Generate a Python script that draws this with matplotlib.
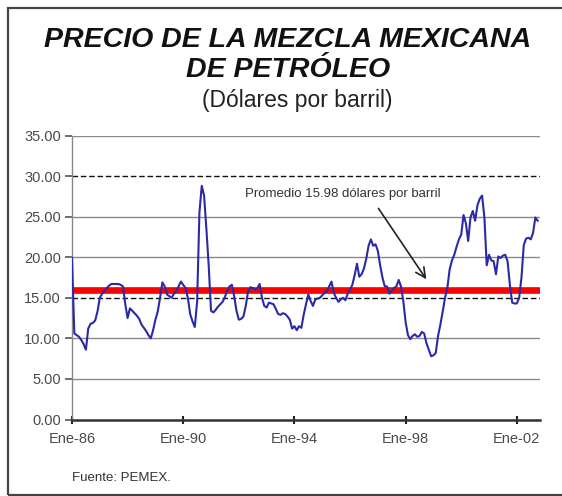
import numpy as np
import matplotlib
matplotlib.use("Agg")
import matplotlib.pyplot as plt
from matplotlib.patches import Rectangle

# Monthly price, Jan-1986 .. Oct-2002 (USD per barrel)
p1986 = [19.9, 10.6, 10.4, 10.2, 9.8, 9.3, 8.6, 11.2, 11.8, 11.9, 12.2, 13.3]
p1987 = [15.0, 15.5, 15.9, 16.2, 16.5, 16.7, 16.7, 16.7, 16.7, 16.6, 16.4, 14.2]
p1988 = [12.5, 13.7, 13.4, 13.1, 12.8, 12.4, 11.7, 11.3, 10.9, 10.4, 10.0, 11.0]
p1989 = [12.3, 13.3, 15.0, 16.9, 16.4, 15.4, 15.2, 15.0, 15.5, 15.8, 16.4, 17.0]
p1990 = [16.6, 16.2, 15.0, 13.0, 12.1, 11.4, 14.5, 25.5, 28.8, 27.6, 23.5, 19.0]
p1991 = [13.4, 13.2, 13.5, 13.9, 14.2, 14.5, 15.1, 15.9, 16.4, 16.6, 15.2, 13.4]
p1992 = [12.3, 12.4, 12.7, 14.0, 15.8, 16.3, 16.2, 16.0, 16.2, 16.7, 15.0, 14.0]
p1993 = [13.8, 14.4, 14.3, 14.2, 13.6, 13.0, 12.9, 13.1, 13.0, 12.7, 12.3, 11.2]
p1994 = [11.5, 11.0, 11.5, 11.3, 12.9, 14.2, 15.4, 14.6, 14.0, 14.8, 14.9, 15.0]
p1995 = [15.3, 15.6, 15.8, 16.4, 17.0, 15.6, 15.0, 14.5, 14.8, 15.0, 14.7, 15.5]
p1996 = [16.0, 16.6, 17.8, 19.2, 17.6, 17.9, 18.6, 19.8, 21.4, 22.2, 21.4, 21.6]
p1997 = [20.8, 19.0, 17.5, 16.4, 16.4, 15.5, 15.8, 16.2, 16.4, 17.2, 16.4, 14.6]
p1998 = [12.0, 10.4, 9.9, 10.3, 10.5, 10.2, 10.3, 10.8, 10.6, 9.4, 8.6, 7.8]
p1999 = [7.9, 8.2, 10.3, 11.7, 13.3, 15.0, 16.2, 18.5, 19.6, 20.3, 21.3, 22.2]
p2000 = [22.8, 25.2, 24.2, 22.0, 24.9, 25.7, 24.5, 26.4, 27.2, 27.6, 24.9, 19.0]
p2001 = [20.3, 19.6, 19.5, 17.9, 20.1, 19.9, 20.2, 20.3, 19.5, 16.6, 14.4, 14.3]
p2002 = [14.3, 15.0, 17.5, 21.5, 22.3, 22.4, 22.2, 23.0, 24.9, 24.5]

precio = (p1986 + p1987 + p1988 + p1989 + p1990 + p1991 + p1992 + p1993 +
          p1994 + p1995 + p1996 + p1997 + p1998 + p1999 + p2000 + p2001 + p2002)
promedio = 15.98

xtick_labels = ["Ene-86", "Ene-90", "Ene-94", "Ene-98", "Ene-02"]
xtick_months = [0, 48, 96, 144, 192]
ytick_values = [0, 5, 10, 15, 20, 25, 30, 35]

W, H = 562, 496
fig = plt.figure(figsize=(W / 100, H / 100), dpi=100)
fig.patch.set_facecolor("white")
FONT = "Liberation Sans"

# outer frame
fig.patches.append(Rectangle((8 / W, 1 - 495 / H), 1.2, (495 - 8) / H,
                             transform=fig.transFigure, fill=False,
                             edgecolor="#444444", lw=1.6))

ax = fig.add_axes([72 / W, 1 - 419.5 / H, (540 - 72) / W, (419.5 - 135.5) / H])
x = np.arange(len(precio))

ax.set_xlim(0, 202)
ax.set_ylim(0, 35)
ax.set_yticks(ytick_values)
ax.set_yticklabels([f"{v:.2f}" for v in ytick_values], fontsize=10.5,
                   family=FONT, color="#4a4a4a")
ax.set_xticks(xtick_months)
ax.set_xticklabels(xtick_labels, fontsize=10.5, family=FONT, color="#4a4a4a")

ax.grid(axis="y", color="#8a8a8a", lw=1.0)
for tv, gl in zip(ytick_values, ax.yaxis.get_gridlines()):
    if tv in (15, 30):
        gl.set_color("#111111")
        gl.set_linestyle((0, (4, 2)))
        gl.set_linewidth(1.0)
ax.set_axisbelow(True)

for s in ("top", "right"):
    ax.spines[s].set_visible(False)
ax.spines["left"].set_color("#888888")
ax.spines["left"].set_linewidth(1.0)
ax.spines["bottom"].set_color("#333333")
ax.spines["bottom"].set_linewidth(1.8)
ax.tick_params(axis="y", direction="out", length=5, width=1.2,
               color="#555555", pad=3)
ax.tick_params(axis="x", direction="inout", length=6, width=1.5,
               color="#222222", pad=6)

ax.axhline(promedio, color="#ff0000", lw=4.8, zorder=3)
ax.plot(x, precio, color="#2a2aa8", lw=1.5, zorder=4)

ax.annotate("", xy=(153.6, 17.0), xytext=(131.6, 26.3),
            arrowprops=dict(arrowstyle="->,head_length=0.7,head_width=0.35",
                            color="#222222", lw=1.2), zorder=5)
ax.text(117, 27.8, "Promedio 15.98 dólares por barril", fontsize=9.5,
        family=FONT, color="#333333", ha="center", va="center")

fig.text(288 / W, 1 - 47 / H, "PRECIO DE LA MEZCLA MEXICANA", fontsize=20.5,
         family=FONT, weight="bold", style="italic", ha="center",
         va="baseline", color="#111111")
fig.text(288 / W, 1 - 77 / H, "DE PETRÓLEO", fontsize=20.5,
         family=FONT, weight="bold", style="italic", ha="center",
         va="baseline", color="#111111")
fig.text(297 / W, 1 - 107 / H, "(Dólares por barril)", fontsize=16.5,
         family=FONT, ha="center", va="baseline", color="#222222")
fig.text(72 / W, 1 - 478 / H, "Fuente: PEMEX.", fontsize=9.5,
         family=FONT, ha="left", va="center", color="#333333")

fig.savefig("out.png", dpi=100)
